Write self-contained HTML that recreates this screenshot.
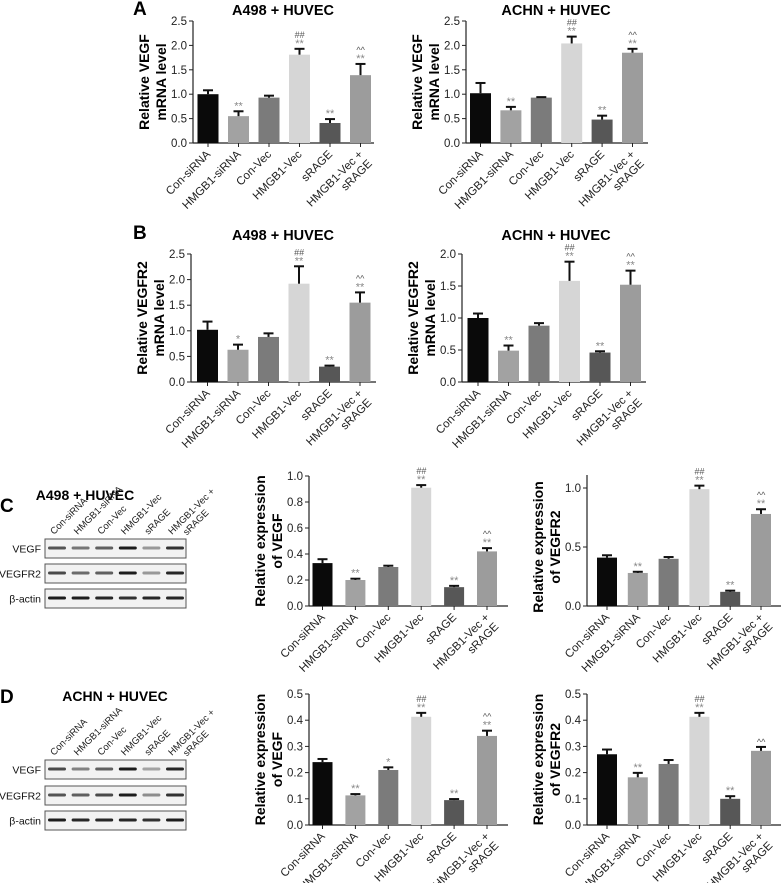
<!DOCTYPE html>
<html><head><meta charset="utf-8"><style>
html,body{margin:0;padding:0;background:#fff;}
svg{display:block;font-family:"Liberation Sans",sans-serif;}
</style></head><body>
<svg id="fig" width="783" height="883" viewBox="0 0 783 883" xmlns="http://www.w3.org/2000/svg">
<g font-weight="bold" font-size="19">
<text x="133" y="15">A</text>
<text x="133" y="239">B</text>
<text x="0" y="512">C</text>
<text x="0" y="703">D</text>
</g>
<g id="charts"></g>
<g id="blots"></g>
</svg>
<script>
const categories = ["Con-siRNA","HMGB1-siRNA","Con-Vec","HMGB1-Vec","sRAGE","HMGB1-Vec +|sRAGE"];
const aLeftValues = [1.0,0.55,0.93,1.81,0.41,1.39];
const aLeftErrors = [0.08,0.1,0.04,0.12,0.08,0.23];
const aRightValues = [1.02,0.67,0.93,2.04,0.48,1.85];
const aRightErrors = [0.21,0.07,0.01,0.14,0.08,0.08];
const bLeftValues = [1.02,0.63,0.88,1.92,0.30,1.55];
const bLeftErrors = [0.16,0.1,0.07,0.34,0.02,0.2];
const bRightValues = [1.0,0.49,0.88,1.58,0.46,1.52];
const bRightErrors = [0.07,0.08,0.04,0.3,0.02,0.22];
const cMidValues = [0.33,0.2,0.3,0.91,0.145,0.42];
const cMidErrors = [0.03,0.01,0.01,0.02,0.01,0.025];
const cRightValues = [0.41,0.28,0.40,0.99,0.12,0.78];
const cRightErrors = [0.02,0.01,0.015,0.03,0.01,0.04];
const dMidValues = [0.24,0.113,0.21,0.413,0.095,0.34];
const dMidErrors = [0.012,0.005,0.01,0.015,0.004,0.02];
const dRightValues = [0.27,0.182,0.233,0.413,0.1,0.283];
const dRightErrors = [0.018,0.017,0.015,0.015,0.01,0.015];
const ticks25 = ["0.0","0.5","1.0","1.5","2.0","2.5"];
const ticks20 = ["0.0","0.5","1.0","1.5","2.0"];
const ticks10 = ["0.0","0.2","0.4","0.6","0.8","1.0"];
const ticks11 = ["0.0","0.5","1.0"];
const ticks05 = ["0.0","0.1","0.2","0.3","0.4","0.5"];
const sigTop = ["","","","##","","^^"];
const sigA = ["","**","","**","**","**"];
const sigB = ["","*","","**","**","**"];
const sigDMid = ["","**","*","**","**","**"];
const sigDRight = ["","**","","**","**",""];
const barColors = ["#0a0a0a","#a2a2a2","#7b7b7b","#d6d6d6","#575757","#9c9c9c"];

const NS="http://www.w3.org/2000/svg";
function mk(tag,attrs,parent){const e=document.createElementNS(NS,tag);for(const k in attrs)e.setAttribute(k,attrs[k]);parent.appendChild(e);return e;}

function drawChart(id,cfg,values,errors,ticks,sig,top){
  const root=document.getElementById('charts');
  const g=mk('g',{},root);
  
  
  const y=v=>cfg.y0-(v/cfg.max)*(cfg.y0-cfg.yTop);
  const x=i=>cfg.x0+i*cfg.step;
  if(cfg.title){const t=mk('text',{x:cfg.tx,y:cfg.ty,'text-anchor':'middle','font-weight':'bold','font-size':'14.5'},g);t.textContent=cfg.title;
    
    }
  const yt=mk('g',{},g);
  
  
  const mid=(cfg.y0+cfg.yTop)/2;
  cfg.ylab.forEach((s,k)=>{const t=mk('text',{x:0,y:0,'text-anchor':'middle','font-weight':'bold','font-size':'14',transform:`translate(${cfg.ax-44+k*17},${mid}) rotate(-90)`},yt);t.textContent=s;});
  const axTop=cfg.axTop!==undefined?cfg.axTop:cfg.yTop;
  const ax=mk('line',{x1:cfg.ax,y1:axTop,x2:cfg.ax,y2:cfg.y0,stroke:'#222','stroke-width':1.2},g);
  
  
  const xa=mk('line',{x1:cfg.ax,y1:cfg.y0,x2:cfg.axEnd,y2:cfg.y0,stroke:'#222','stroke-width':1.2},g);
  
  
  ticks.forEach(s=>{const v=parseFloat(s);const yy=y(v);
    mk('line',{x1:cfg.ax-4,y1:yy,x2:cfg.ax,y2:yy,stroke:'#222','stroke-width':1},g);
    const t=mk('text',{x:cfg.ax-6,y:yy+4,'text-anchor':'end','font-size':'11.5',fill:'#222'},g);t.textContent=s;
    
    });
  values.forEach((v,i)=>{
    const cx=x(i);
    const b=mk('rect',{x:cx-cfg.bw/2,y:y(v),width:cfg.bw,height:cfg.y0-y(v),fill:barColors[i]},g);
    
    
    const et=y(v+errors[i]);
    mk('line',{x1:cx,y1:y(v),x2:cx,y2:et,stroke:'#111','stroke-width':2},g);
    mk('line',{x1:cx-5,y1:et,x2:cx+5,y2:et,stroke:'#111','stroke-width':2},g);
    mk('line',{x1:cx,y1:cfg.y0,x2:cx,y2:cfg.y0+4,stroke:'#222','stroke-width':1},g);
    if(sig[i]){const t=mk('text',{x:cx,y:et-2,'text-anchor':'middle','font-size':'11',fill:'#888'},g);t.textContent=sig[i];
      
      }
    if(top[i]){const t=mk('text',{x:cx,y:et-(sig[i]?11:2),'text-anchor':'middle','font-size':'9',fill:'#555','font-style':'italic'},g);t.textContent=top[i];
      
      }
    const parts=categories[i].split('|');
    const lt=mk('text',{x:0,y:0,'text-anchor':'end','font-size':'11.5',fill:'#222',transform:`translate(${cx+3},${cfg.y0+12}) rotate(-45)`},g);
    
    
    parts.forEach((p,k)=>{const ts=mk('tspan',{x:0,dy:k?13:0},lt);ts.textContent=p;});
  });
}
const A_L={title:"A498 + HUVEC",tx:283,ty:15,ylab:["Relative VEGF","mRNA level"],ax:193,axEnd:374,x0:208,step:30.5,bw:21,y0:143,yTop:21,max:2.5};
const A_R={title:"ACHN + HUVEC",tx:556,ty:15,ylab:["Relative VEGF","mRNA level"],ax:466,axEnd:648,x0:480.5,step:30.4,bw:21,y0:143,yTop:21,max:2.5};
const B_L={title:"A498 + HUVEC",tx:283,ty:240,ylab:["Relative VEGFR2","mRNA level"],ax:191,axEnd:376,x0:207.5,step:30.5,bw:21,y0:382,yTop:254,max:2.5};
const B_R={title:"ACHN + HUVEC",tx:556,ty:240,ylab:["Relative VEGFR2","mRNA level"],ax:462,axEnd:646,x0:478,step:30.5,bw:21,y0:382,yTop:254,max:2.0};
const C_M={ylab:["Relative expression","of VEGF"],ax:309,axEnd:508,x0:322.5,step:32.9,bw:20,y0:606,yTop:476,max:1.0};
const C_R={ylab:["Relative expression","of VEGFR2"],ax:587,axEnd:781,x0:607,step:30.8,bw:20,y0:606,yTop:488,max:1.0,axTop:475};
const D_M={ylab:["Relative expression","of VEGF"],ax:309,axEnd:508,x0:322.5,step:32.9,bw:20,y0:825,yTop:694,max:0.5};
const D_R={ylab:["Relative expression","of VEGFR2"],ax:587,axEnd:781,x0:607,step:30.8,bw:20,y0:825,yTop:694,max:0.5};
drawChart('chart-a-a498',A_L,aLeftValues,aLeftErrors,ticks25,sigA,sigTop);
drawChart('chart-a-achn',A_R,aRightValues,aRightErrors,ticks25,sigA,sigTop);
drawChart('chart-b-a498',B_L,bLeftValues,bLeftErrors,ticks25,sigB,sigTop);
drawChart('chart-b-achn',B_R,bRightValues,bRightErrors,ticks20,sigA,sigTop);
drawChart('chart-c-vegf',C_M,cMidValues,cMidErrors,ticks10,sigA,sigTop);
drawChart('chart-c-vegfr2',C_R,cRightValues,cRightErrors,ticks11,sigA,sigTop);
drawChart('chart-d-vegf',D_M,dMidValues,dMidErrors,ticks05,sigDMid,sigTop);
drawChart('chart-d-vegfr2',D_R,dRightValues,dRightErrors,ticks05,sigDRight,sigTop);

const blotRows=["VEGF","VEGFR2","β-actin"];
const cBand=[[0.7,0.55,0.65,0.95,0.4,0.85],[0.75,0.6,0.65,0.95,0.4,0.9],[0.95,0.95,0.9,0.85,0.9,0.9]];
const dBand=[[0.75,0.5,0.65,0.95,0.35,0.9],[0.7,0.65,0.75,0.95,0.45,0.85],[0.95,0.9,0.9,0.9,0.85,0.95]];
function drawBlot(id,title,tx,titleY,boxY,bands){
  const root=document.getElementById('blots');
  const g=mk('g',{},root);
  
  
  const t=mk('text',{x:tx,y:titleY,'text-anchor':'middle','font-weight':'bold','font-size':'14'},g);t.textContent=title;
  const lane=i=>57+i*23.6;
  ["Con-siRNA","HMGB1-siRNA","Con-Vec","HMGB1-Vec","sRAGE","HMGB1-Vec +|sRAGE"].forEach((s,i)=>{
    const lt=mk('text',{x:0,y:0,'font-size':'9.5',fill:'#222',transform:`translate(${lane(i)-3},${boxY[0]-4}) rotate(-45)`},g);
    
    
    s.split('|').forEach((p,k)=>{const ts=mk('tspan',{x:k?10:0,dy:k?11:0},lt);ts.textContent=p;});
  });
  blotRows.forEach((r,j)=>{
    const by=boxY[j];
    const box=mk('rect',{x:45,y:by,width:141,height:19,fill:'#f2f2f2',stroke:'#555','stroke-width':1},g);
    
    
    const lb=mk('text',{x:41,y:by+13.5,'text-anchor':'end','font-size':'10.5',fill:'#111'},g);lb.textContent=r;
    bands[j].forEach((a,i)=>{mk('rect',{x:lane(i)-9,y:by+7.5,width:18,height:3,rx:1.5,fill:'#111','fill-opacity':a},g);});
  });
}
drawBlot('blot-c',"A498 + HUVEC",85,500,[539,564,589],cBand);
drawBlot('blot-d',"ACHN + HUVEC",115,701,[760,786,811],dBand);
</script>
</body></html>
